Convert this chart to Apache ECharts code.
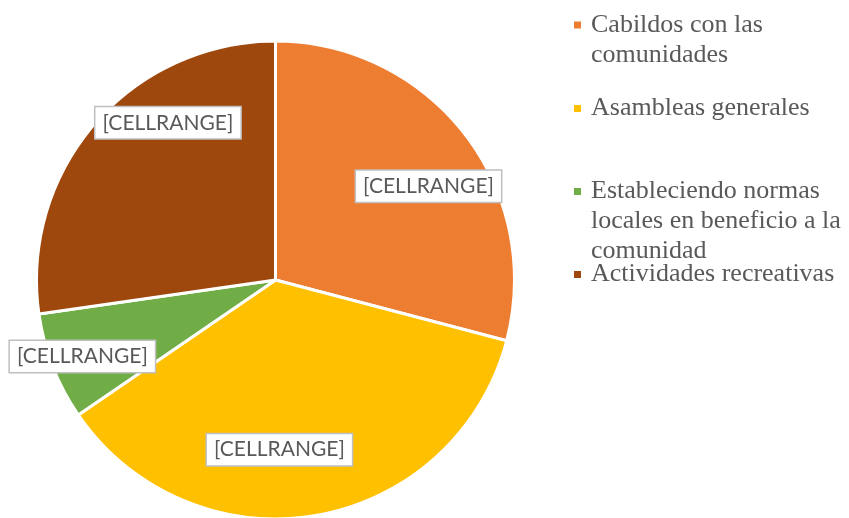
<!DOCTYPE html>
<html>
<head>
<meta charset="utf-8">
<script src="https://cdn.jsdelivr.net/npm/echarts@6/dist/echarts.min.js"></script>
<style>
html,body{margin:0;padding:0;background:#fff;}
#chart{width:849px;height:518px;}
</style>
</head>
<body>
<div id="chart"></div>
<script>
// Data
var categories = ['Cabildos con las comunidades', 'Asambleas generales', 'Estableciendo normas locales en beneficio a la comunidad', 'Actividades recreativas'];
var legendText = ['Cabildos con las\ncomunidades', 'Asambleas generales', 'Estableciendo normas\nlocales en beneficio a la\ncomunidad', 'Actividades recreativas'];
var values = [16, 20, 4, 15];
var labels = ['[CELLRANGE]', '[CELLRANGE]', '[CELLRANGE]', '[CELLRANGE]'];
var colors = ['#ED7D31', '#FFC000', '#70AD47', '#9E480E'];

// label nudges relative to library default inside position
var labelShift = [[56, -19], [-17, 49], [-79, 32], [-15, -77]];
// first-line centre of each legend entry
var legendLineCentres = [24, 107.5, 190.5, 273.5];

var LH = 30;
var chart = echarts.init(document.getElementById('chart'));

var legends = categories.map(function (c, i) {
  var lines = legendText[i].split('\n').length;
  var h = lines * LH;
  var sq = (LH - 9) / 2;
  // square sitting on the first text line; zero-area points keep the full box
  var icon = 'path://M0,0L9,0L9,0Z M0,' + sq + 'H9V' + (sq + 9) + 'H0Z M0,' + h + 'L9,' + h + 'L9,' + h + 'Z';
  return {
    orient: 'vertical',
    left: 572,
    top: legendLineCentres[i] - LH / 2,
    padding: 0,
    itemWidth: 9,
    itemHeight: h,
    selectedMode: false,
    data: [{ name: c, icon: icon }],
    formatter: function () { return legendText[i]; },
    textStyle: {
      fontFamily: 'Liberation Serif',
      fontSize: 26,
      color: '#595959',
      lineHeight: LH,
      padding: [0, 0, 0, 4]
    }
  };
});

chart.setOption({
  backgroundColor: '#fff',
  animation: false,
  color: colors,
  legend: legends,
  series: [{
    type: 'pie',
    center: [275.5, 280],
    radius: 239,
    startAngle: 90,
    clockwise: true,
    avoidLabelOverlap: false,
    itemStyle: { borderColor: '#fff', borderWidth: 3 },
    label: {
      show: true,
      position: 'inside',
      formatter: function (p) { return labels[p.dataIndex]; },
      fontFamily: 'Lato',
      fontSize: 21,
      color: '#595959',
      backgroundColor: '#fff',
      borderColor: '#bfbfbf',
      borderWidth: 1.5,
      padding: [5, 7, 5, 7]
    },
    labelLine: { show: false },
    labelLayout: function (p) {
      var s = labelShift[p.dataIndex];
      return { dx: s[0], dy: s[1] };
    },
    emphasis: { disabled: true },
    data: categories.map(function (c, i) { return { name: c, value: values[i] }; })
  }]
});
</script>
</body>
</html>
